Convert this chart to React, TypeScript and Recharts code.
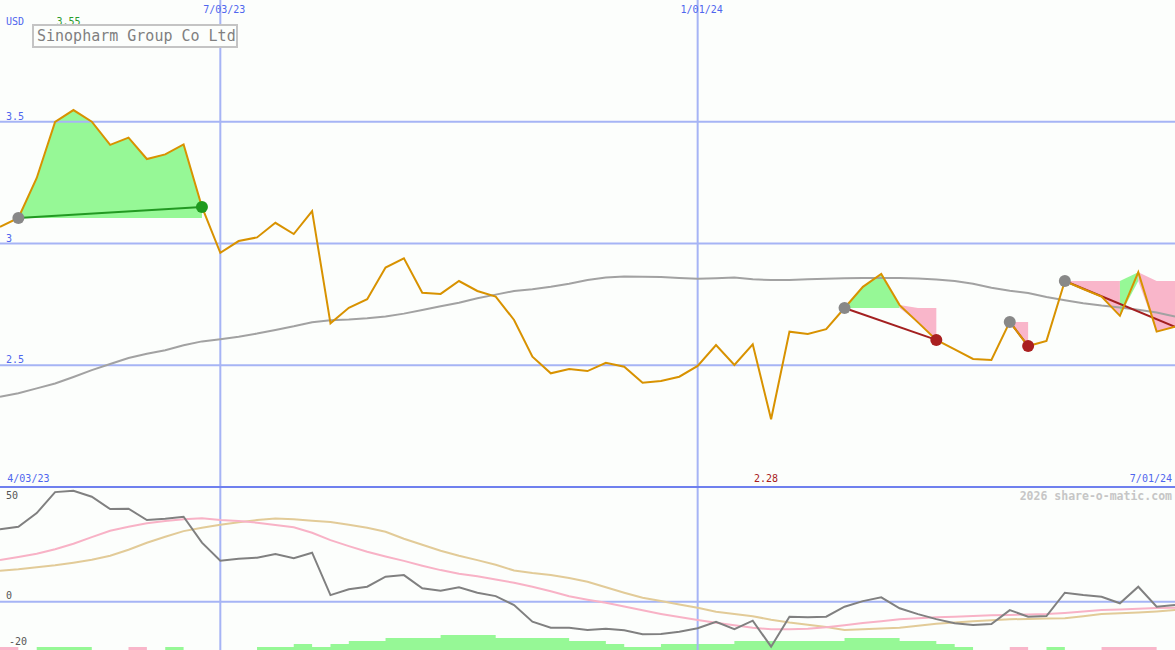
import React from 'react';
import { ComposedChart, Line, Area, XAxis, YAxis, ReferenceLine } from 'recharts';

// ---------- data (weekly, index 0 = week of 4/10/23) ----------
const weeks = [
  0, 1, 2, 3, 4, 5, 6, 7, 8, 9, 10, 11, 12, 13, 14, 15, 16, 17, 18, 19, 20, 21, 22, 23, 24, 25, 26, 27, 28, 29, 30, 31,
  32, 33, 34, 35, 36, 37, 38, 39, 40, 41, 42, 43, 44, 45, 46, 47, 48, 49, 50, 51, 52, 53, 54, 55, 56, 57, 58, 59, 60,
  61, 62, 63, 64,
];

const price = [
  3.068, 3.105, 3.269, 3.499, 3.548, 3.5, 3.405, 3.435, 3.347, 3.366, 3.407, 3.15, 2.962, 3.01, 3.025, 3.085, 3.039,
  3.133, 2.672, 2.736, 2.771, 2.901, 2.939, 2.798, 2.793, 2.846, 2.805, 2.782, 2.686, 2.535, 2.467, 2.485, 2.476, 2.51,
  2.494, 2.428, 2.435, 2.453, 2.497, 2.583, 2.501, 2.586, 2.278, 2.638, 2.628, 2.648, 2.735, 2.822, 2.875, 2.747, 2.676,
  2.604, 2.565, 2.526, 2.522, 2.678, 2.579, 2.6, 2.846, 2.813, 2.782, 2.703, 2.882, 2.638, 2.658,
];

const priceMA = [
  2.371, 2.385, 2.405, 2.425, 2.452, 2.48, 2.505, 2.53, 2.547, 2.562, 2.582, 2.598, 2.607, 2.617, 2.63, 2.645, 2.66,
  2.677, 2.685, 2.688, 2.693, 2.7, 2.712, 2.727, 2.742, 2.757, 2.775, 2.79, 2.805, 2.812, 2.822, 2.835, 2.85, 2.86,
  2.864, 2.863, 2.862, 2.858, 2.855, 2.857, 2.86, 2.853, 2.85, 2.85, 2.853, 2.855, 2.857, 2.858, 2.858, 2.858, 2.856,
  2.852, 2.846, 2.835, 2.818, 2.806, 2.797, 2.78, 2.767, 2.755, 2.745, 2.737, 2.728, 2.717, 2.7,
];

const oscillator = [
  36.2, 37.5, 44.3, 54.8, 55.5, 52.5, 46.3, 46.5, 40.8, 41.5, 42.5, 29.5, 20.5, 21.5, 22, 23.8, 21.7, 24.5, 3.3, 6.2,
  7.5, 12.5, 13.3, 6.7, 5.5, 7.2, 4.5, 2.8, -1.7, -10, -13, -13, -14.2, -13.5, -14.3, -16.3, -16.2, -15, -13.3, -10,
  -13.7, -9.5, -22.5, -7.5, -7.8, -7.5, -2.5, 0.3, 2.2, -3.3, -6.2, -8.7, -10.8, -11.7, -11.2, -4.2, -7.5, -7.2, 4.5,
  3.3, 2.5, -0.8, 7.5, -2.5, -1.7,
];

const oscPink = [
  20.8, 22.3, 24, 26.2, 29, 32.3, 35.5, 37.5, 39.2, 40.3, 41.2, 41.7, 40.8, 40.3, 39.5, 38.3, 37.2, 34.5, 30.8, 27.8,
  25, 22.6, 20.4, 18, 15.8, 14, 12.7, 11.1, 9.5, 7.5, 5.2, 2.7, 1, -0.5, -2.4, -4.3, -6.1, -7.7, -9.2, -10.5, -11.8,
  -13, -13.8, -13.8, -13.5, -12.8, -11.8, -10.7, -9.8, -8.8, -8.3, -7.8, -7.5, -7.2, -6.8, -6.6, -6.4, -6.2, -5.6, -4.9,
  -4.2, -3.9, -3.5, -3.2, -3,
];

const oscTan = [
  15.5, 16.2, 17.2, 18.2, 19.5, 21, 23, 26, 29.5, 32.5, 35.3, 37, 38.5, 39.7, 40.8, 41.6, 41.2, 40.5, 39.8, 38.5, 37,
  35, 31.5, 28.5, 25.5, 23, 20.8, 18.5, 15.6, 14.3, 13.3, 11.8, 10, 7.2, 4.5, 2, 0.3, -1.4, -3, -5, -6.2, -7.3, -9,
  -10.4, -11.5, -12.6, -14.2, -13.8, -13.4, -13, -12, -11, -10.4, -9.8, -9.3, -8.8, -8.6, -8.4, -8.3, -7.3, -6.2, -5.8,
  -5.4, -4.9, -4.2,
];

const histUp = [
  0, 0, 1, 1, 1, 0, 0, 0, 0, 1, 0, 0, 0, 0, 1, 1, 2, 1, 2, 3, 3, 4, 4, 4, 5, 5, 5, 4, 4, 4, 4, 3, 3, 2, 1, 1, 2, 2, 2, 2,
  3, 3, 3, 3, 3, 3, 4, 4, 4, 3, 3, 2, 1, 0, 0, 0, 0, 1, 0, 0, 0, 0, 0, 0, 0,
];

const histDown = [
  1, 0, 0, 0, 0, 0, 0, 1, 0, 0, 0, 0, 0, 0, 0, 0, 0, 0, 0, 0, 0, 0, 0, 0, 0, 0, 0, 0, 0, 0, 0, 0, 0, 0, 0, 0, 0, 0, 0, 0,
  0, 0, 0, 0, 0, 0, 0, 0, 0, 0, 0, 0, 0, 0, 0, 1, 0, 0, 0, 0, 1, 1, 1, 0, 0,
];

const dateTicks = [12, 38];
const dateTickLabels = ['7/03/23', '1/01/24'];
const priceTicks = [2.5, 3, 3.5];
const oscTicks = [-20, 0, 50];
const startDateLabel = '4/03/23';
const endDateLabel = '7/01/24';
const currencyLabel = 'USD';
const companyName = 'Sinopharm Group Co Ltd';
const copyright = '2026 share-o-matic.com';

const trendStarts = [1, 46, 55, 58];
const trendEnds = [11, 51, 56, 64];

// ---------- layout / style ----------
const W = 1175;
const H = 650;
const P_PX = 243.5; // px per price unit
const P_MAX = 4.0;
const P_MIN = P_MAX - H / P_PX;
const P_PANEL_BOTTOM = 2.0;
const O_ZERO_PX = 601.7;
const O_PX = 2;
const O_MAX = O_ZERO_PX / O_PX;
const O_MIN = -(H - O_ZERO_PX) / O_PX;
const H_MAX = H / 3;
const X_MAX = weeks[weeks.length - 1];

const BG = '#fcfefc';
const BLUE_TEXT = '#4f66ee';
const GRID = '#a6b4f5';
const SEP = '#6f80ee';
const GREEN_FILL = '#96f896';
const PINK_FILL = '#f9b6ca';
const FONT = '"DejaVu Sans Mono", monospace';

const table = weeks.map((i) => ({
  i,
  price: price[i],
  ma: priceMA[i],
  osc: oscillator[i],
  pk: oscPink[i],
  tn: oscTan[i],
  hu: histUp[i],
  hd: histDown[i],
}));

type Run = { color: string; pts: { i: number; r: [number, number] }[] };
const fillRuns: Run[] = [];
trendStarts.forEach((s, k) => {
  const e = trendEnds[k];
  const base = price[s];
  const rng = (i: number): [number, number] => [Math.min(price[i], base), Math.max(price[i], base)];
  let cur: Run | null = null;
  let curUp: boolean | null = null;
  for (let i = s; i < e; i++) {
    const up = price[i + 1] >= base;
    if (cur === null || up !== curUp) {
      cur = { color: up ? GREEN_FILL : PINK_FILL, pts: [{ i, r: rng(i) }] };
      fillRuns.push(cur);
      curUp = up;
    }
    cur.pts.push({ i: i + 1, r: rng(i + 1) });
  }
});

const trendLines = trendStarts.map((s, k) => {
  const e = trendEnds[k];
  const up = price[e] > price[s];
  return {
    color: up ? '#229922' : '#a32020',
    pts: [
      { i: s, v: price[s] },
      { i: e, v: price[e] },
    ],
  };
});

const trendDots = trendStarts.map((s, k) => {
  const e = trendEnds[k];
  const up = price[e] > price[s];
  const pts = [{ i: s, v: price[s], c: '#888888' }];
  if (e < X_MAX) pts.push({ i: e, v: price[e], c: up ? '#1f9a1f' : '#aa2020' });
  return pts;
});

const maxIdx = price.indexOf(Math.max(...price));
const minIdx = price.indexOf(Math.min(...price));
const xPx = (i: number) => (i / X_MAX) * W;

const DateTick = (props: any) => {
  const idx = dateTicks.indexOf(props.payload.value);
  return (
    <text x={props.x + 4} y={12.6} textAnchor="middle" fill={BLUE_TEXT} fontSize={10} fontFamily={FONT}>
      {dateTickLabels[idx]}
    </text>
  );
};

const PriceTick = (props: any) => (
  <text x={6} y={props.y - 2} textAnchor="start" fill={BLUE_TEXT} fontSize={10} fontFamily={FONT}>
    {String(props.payload.value)}
  </text>
);

const OscTick = (props: any) => {
  const v = props.payload.value;
  return (
    <text x={v < 0 ? 9 : 6} y={v < 0 ? props.y + 3.6 : props.y - 2.5} textAnchor="start" fill="#555555" fontSize={10} fontFamily={FONT}>
      {String(v)}
    </text>
  );
};

export default function App() {
  return (
    <div style={{ position: 'absolute', left: 0, top: 0, width: W, height: H, background: BG, overflow: 'hidden' }}>
      <ComposedChart width={W} height={H} data={table} margin={{ top: 0, right: 0, bottom: 0, left: 0 }}>
        <XAxis
          dataKey="i"
          type="number"
          domain={[0, X_MAX]}
          ticks={dateTicks}
          interval={0}
          orientation="top"
          mirror
          axisLine={false}
          tickLine={false}
          tick={DateTick}
        />
        <YAxis
          yAxisId="p"
          type="number"
          domain={[P_MIN, P_MAX]}
          ticks={priceTicks}
          interval={0}
          mirror
          axisLine={false}
          tickLine={false}
          tick={PriceTick}
          allowDataOverflow
        />
        <YAxis
          yAxisId="o"
          type="number"
          domain={[O_MIN, O_MAX]}
          ticks={oscTicks}
          interval={0}
          mirror
          axisLine={false}
          tickLine={false}
          tick={OscTick}
          allowDataOverflow
        />
        <YAxis yAxisId="h" type="number" domain={[0, H_MAX]} hide allowDataOverflow />

        {priceTicks.map((v) => (
          <ReferenceLine key={'hp' + v} yAxisId="p" y={v} stroke={GRID} strokeWidth={2} />
        ))}
        {dateTicks.map((v) => (
          <ReferenceLine key={'vx' + v} yAxisId="p" x={v} stroke={GRID} strokeWidth={2} />
        ))}
        <ReferenceLine yAxisId="o" y={0} stroke={GRID} strokeWidth={2} />

        <Area yAxisId="h" dataKey="hu" type="stepAfter" fill={GREEN_FILL} fillOpacity={1} stroke="none" isAnimationActive={false} dot={false} activeDot={false} />
        <Area yAxisId="h" dataKey="hd" type="stepAfter" fill={PINK_FILL} fillOpacity={1} stroke="none" isAnimationActive={false} dot={false} activeDot={false} />

        {fillRuns.map((run, k) => (
          <Area
            key={'fill' + k}
            yAxisId="p"
            data={run.pts}
            dataKey="r"
            type="linear"
            fill={run.color}
            fillOpacity={1}
            stroke="none"
            isAnimationActive={false}
            dot={false}
            activeDot={false}
          />
        ))}

        <ReferenceLine yAxisId="p" y={P_PANEL_BOTTOM} stroke={SEP} strokeWidth={2} />

        <Line yAxisId="p" dataKey="ma" type="linear" stroke="#a2a2a2" strokeWidth={2} dot={false} activeDot={false} isAnimationActive={false} />

        {trendLines.map((t, k) => (
          <Line
            key={'trend' + k}
            yAxisId="p"
            data={t.pts}
            dataKey="v"
            type="linear"
            stroke={t.color}
            strokeWidth={2}
            dot={false}
            activeDot={false}
            isAnimationActive={false}
          />
        ))}

        <Line yAxisId="p" dataKey="price" type="linear" stroke="#d89200" strokeWidth={2} dot={false} activeDot={false} isAnimationActive={false} />

        <Line yAxisId="o" dataKey="tn" type="linear" stroke="#e2cb98" strokeWidth={2} dot={false} activeDot={false} isAnimationActive={false} />
        <Line yAxisId="o" dataKey="pk" type="linear" stroke="#f8b2c6" strokeWidth={2} dot={false} activeDot={false} isAnimationActive={false} />
        <Line yAxisId="o" dataKey="osc" type="linear" stroke="#808080" strokeWidth={2} dot={false} activeDot={false} isAnimationActive={false} />

        {trendDots.map((pts, k) => (
          <Line
            key={'dots' + k}
            yAxisId="p"
            data={pts}
            dataKey="v"
            stroke="none"
            isAnimationActive={false}
            activeDot={false}
            dot={(p: any) => <circle key={'d' + k + '_' + p.index} cx={p.cx} cy={p.cy} r={6} fill={p.payload.c} />}
          />
        ))}
      </ComposedChart>

      <svg width={W} height={H} style={{ position: 'absolute', left: 0, top: 0, pointerEvents: 'none' }}>
        <text x={6} y={24.6} fill={BLUE_TEXT} fontSize={10} fontFamily={FONT}>
          {currencyLabel}
        </text>
        <text x={xPx(maxIdx) - 5} y={24.6} textAnchor="middle" fill="#2c9c2c" fontSize={10} fontFamily={FONT}>
          {price[maxIdx].toFixed(2)}
        </text>
        <rect x={33} y={25} width={204} height={22} fill={BG} stroke="#c4c4c4" strokeWidth={2} />
        <text x={37} y={40.7} fill="#808080" fontSize={15} fontFamily={FONT}>
          {companyName}
        </text>
        <text x={7.3} y={482.3} fill={BLUE_TEXT} fontSize={10} fontFamily={FONT}>
          {startDateLabel}
        </text>
        <text x={1172} y={482.3} textAnchor="end" fill={BLUE_TEXT} fontSize={10} fontFamily={FONT}>
          {endDateLabel}
        </text>
        <text x={xPx(minIdx) - 5} y={482.3} textAnchor="middle" fill="#a82020" fontSize={10} fontFamily={FONT}>
          {price[minIdx].toFixed(2)}
        </text>
        <text x={1172} y={500.2} textAnchor="end" fill="#c6c6c6" fontSize={11.5} fontWeight="bold" fontFamily={FONT}>
          {copyright}
        </text>
      </svg>
    </div>
  );
}
